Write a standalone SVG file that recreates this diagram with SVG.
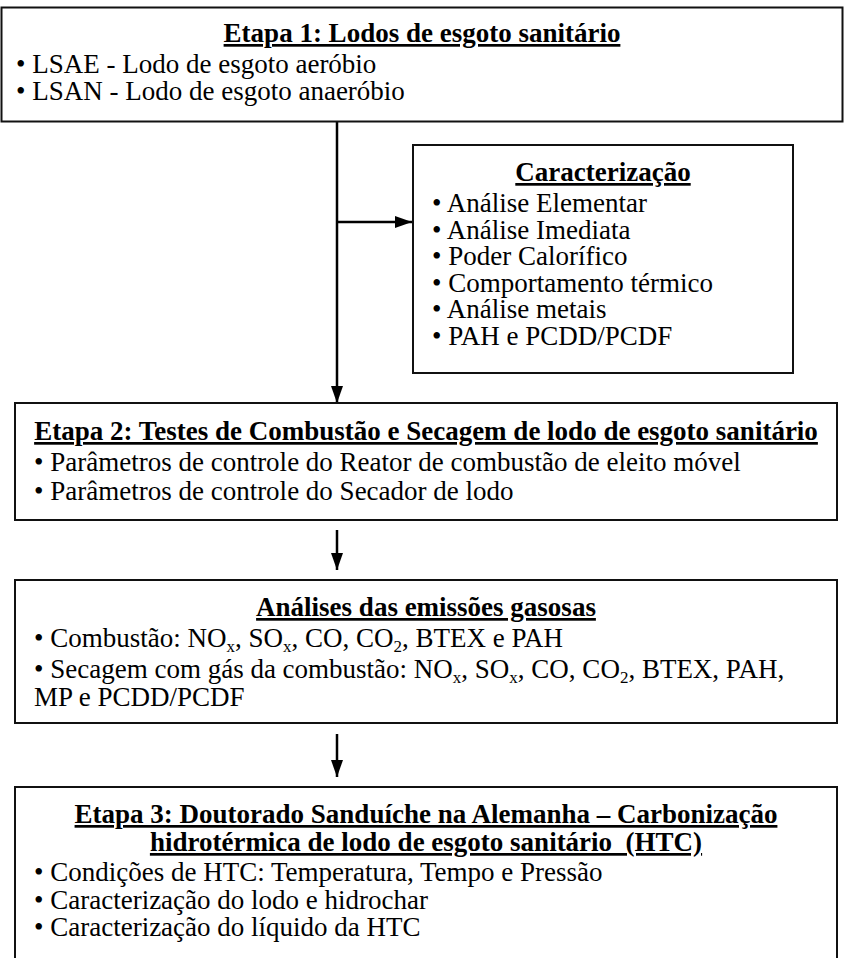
<svg xmlns="http://www.w3.org/2000/svg" width="844" height="958" viewBox="0 0 844 958">
<defs>
<style>
text{font-family:"Liberation Serif","Times New Roman",serif;font-size:27px;fill:#000}
.t{font-weight:bold;text-decoration:underline;text-anchor:middle}
.box{fill:#fff;stroke:#111;stroke-width:2}
.con{stroke:#000;stroke-width:2.5;fill:none}
.sub{font-size:17px}
</style>
<marker id="ah" viewBox="0 0 17 12" refX="17" refY="6" markerWidth="17" markerHeight="12" orient="auto" markerUnits="userSpaceOnUse">
<path d="M0,0 L17,6 L0,12 z" fill="#000"/>
</marker>
</defs>
<rect width="844" height="958" fill="#fff"/>
<g id="connectors">
<line class="con" x1="337" y1="122" x2="337" y2="403" marker-end="url(#ah)"/>
<line class="con" x1="337" y1="222" x2="412" y2="222" marker-end="url(#ah)"/>
<line class="con" x1="337" y1="530" x2="337" y2="570" marker-end="url(#ah)"/>
<line class="con" x1="337" y1="734" x2="337" y2="777" marker-end="url(#ah)"/>
</g>
<g id="etapa1">
<rect class="box" x="1.5" y="7.5" width="841" height="114"/>
<text class="t" x="422" y="42">Etapa 1: Lodos de esgoto sanitário</text>
<text x="16" y="73">• LSAE - Lodo de esgoto aeróbio</text>
<text x="16" y="100">• LSAN - Lodo de esgoto anaeróbio</text>
</g>
<g id="caracterizacao">
<rect class="box" x="413" y="145" width="380" height="228"/>
<text class="t" x="603" y="181">Caracterização</text>
<text x="432" y="212">• Análise Elementar</text>
<text x="432" y="238.5">• Análise Imediata</text>
<text x="432" y="265">• Poder Calorífico</text>
<text x="432" y="291.5">• Comportamento térmico</text>
<text x="432" y="318">• Análise metais</text>
<text x="432" y="344.5">• PAH e PCDD/PCDF</text>
</g>
<g id="etapa2">
<rect class="box" x="15" y="403" width="822" height="117"/>
<text class="t" x="426" y="440">Etapa 2: Testes de Combustão e Secagem de lodo de esgoto sanitário</text>
<text x="34" y="471">• Parâmetros de controle do Reator de combustão de eleito móvel</text>
<text x="34" y="500">• Parâmetros de controle do Secador de lodo</text>
</g>
<g id="emissoes">
<rect class="box" x="15" y="580" width="822" height="143"/>
<text class="t" x="426" y="616">Análises das emissões gasosas</text>
<text x="34" y="647">• Combustão: NO<tspan class="sub" dy="5">x</tspan><tspan dy="-5">, SO</tspan><tspan class="sub" dy="5">x</tspan><tspan dy="-5">, CO, CO</tspan><tspan class="sub" dy="5">2</tspan><tspan dy="-5">, BTEX e PAH</tspan></text>
<text x="34" y="678">• Secagem com gás da combustão: NO<tspan class="sub" dy="5">x</tspan><tspan dy="-5">, SO</tspan><tspan class="sub" dy="5">x</tspan><tspan dy="-5">, CO, CO</tspan><tspan class="sub" dy="5">2</tspan><tspan dy="-5">, BTEX, PAH,</tspan></text>
<text x="34" y="706">MP e PCDD/PCDF</text>
</g>
<g id="etapa3">
<path class="box" d="M15,965 V787 H837 V965"/>
<text class="t" x="426" y="823">Etapa 3: Doutorado Sanduíche na Alemanha – Carbonização</text>
<text class="t" x="426" y="851" xml:space="preserve">hidrotérmica de lodo de esgoto sanitário  (HTC)</text>
<text x="34" y="881">• Condições de HTC: Temperatura, Tempo e Pressão</text>
<text x="34" y="909">• Caracterização do lodo e hidrochar</text>
<text x="34" y="936">• Caracterização do líquido da HTC</text>
</g>
</svg>
